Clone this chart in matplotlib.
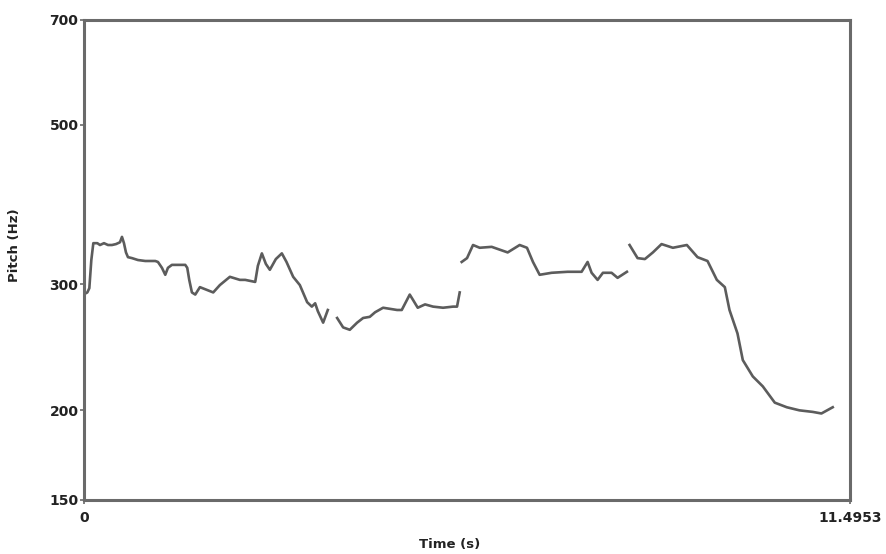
import matplotlib.pyplot as plt
import numpy as np
from matplotlib.ticker import NullLocator

# pitch contour, four voiced stretches (time s, pitch Hz)
t1 = [0.02, 0.05, 0.08, 0.11, 0.14, 0.20, 0.24, 0.30, 0.36, 0.42, 0.48, 0.54, 0.57, 0.60,
      0.63, 0.66, 0.72, 0.81, 0.92, 0.99, 1.07, 1.11, 1.17, 1.22, 1.26, 1.32, 1.41, 1.52,
      1.55, 1.58, 1.62, 1.67, 1.74, 1.94, 2.04, 2.19, 2.34, 2.42, 2.57, 2.61, 2.67, 2.73,
      2.79, 2.88, 2.97, 3.04, 3.14, 3.24, 3.35, 3.42, 3.47, 3.51, 3.59, 3.66]
f1 = [291, 292, 296, 324, 342, 342, 340, 342, 340, 340, 341, 343, 349, 342,
      332, 327, 326, 324, 323, 323, 323, 322, 316, 309, 316, 319, 319, 319,
      316, 304, 292, 290, 297, 292, 299, 307, 304, 304, 302, 318, 331, 320,
      314, 325, 331, 322, 307, 299, 283, 279, 282, 275, 265, 276]

t2 = [3.80, 3.89, 3.99, 4.10, 4.19, 4.29, 4.37, 4.49, 4.70, 4.77, 4.89, 4.94, 5.01,
      5.12, 5.24, 5.39, 5.54, 5.60, 5.64]
f2 = [269, 261, 259, 265, 269, 270, 274, 278, 276, 276, 290, 285, 278,
      281, 279, 278, 279, 279, 292]

t3 = [5.67, 5.75, 5.84, 5.94, 6.12, 6.36, 6.54, 6.65, 6.74, 6.84, 7.02, 7.26, 7.47,
      7.56, 7.62, 7.71, 7.79, 7.92, 8.01, 8.15]
f3 = [322, 326, 340, 337, 338, 332, 340, 337, 322, 309, 311, 312, 312,
      322, 311, 304, 311, 311, 306, 312]

t4 = [8.19, 8.31, 8.42, 8.54, 8.67, 8.84, 9.05, 9.21, 9.36, 9.50, 9.62, 9.69, 9.81,
      9.89, 10.04, 10.19, 10.37, 10.55, 10.74, 10.94, 11.07, 11.24]
f4 = [340, 326, 325, 332, 341, 337, 340, 327, 323, 304, 297, 276, 256,
      235, 223, 216, 205, 202, 200, 199, 198, 202]

t_end = 11.4953
y_ticks = [150, 200, 300, 500, 700]

fig = plt.figure(figsize=(8.87, 5.54), dpi=100)
ax = fig.add_axes([0.0947, 0.0975, 0.8633, 0.8664])

for t, f in [(t1, f1), (t2, f2), (t3, f3), (t4, f4)]:
    ax.plot(t, f, color='#5c5c5c', linewidth=1.9, solid_joinstyle='round')

ax.set_yscale('log')
ax.set_ylim(150, 700)
ax.set_xlim(0, t_end)
ax.yaxis.set_minor_locator(NullLocator())
ax.set_yticks(y_ticks)
ax.set_yticklabels([str(v) for v in y_ticks])
ax.set_xticks([0, t_end])
ax.set_xticklabels(['0', '11.4953'])

for s in ax.spines.values():
    s.set_color('#6a6a6a')
    s.set_linewidth(2.2)

ax.tick_params(axis='both', length=3, width=1.2, color='#6a6a6a', labelsize=10, pad=1)
ax.tick_params(axis='x', pad=5)
for lab in ax.get_xticklabels() + ax.get_yticklabels():
    lab.set_fontweight('bold')
    lab.set_color('#222222')

ax.set_ylabel('Pitch (Hz)', fontsize=9.5, fontweight='bold', color='#222222')
ax.yaxis.set_label_coords(-0.082, 0.53)
ax.set_xlabel('Time (s)', fontsize=9.5, fontweight='bold', color='#222222')
ax.xaxis.set_label_coords(0.478, -0.08)

fig.savefig('out.png', dpi=100)
